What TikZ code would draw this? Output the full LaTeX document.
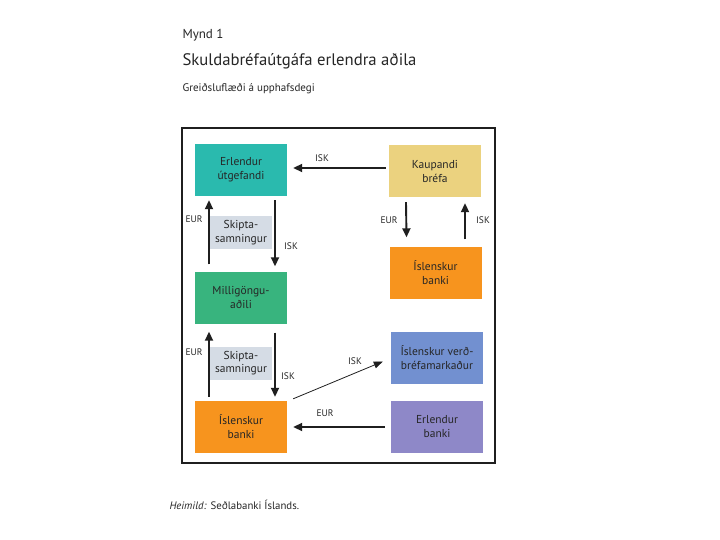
\documentclass[tikz,border=0pt]{standalone}
\usepackage{fontspec}
\setmainfont{PT Sans}
\usepackage{xcolor}
\usetikzlibrary{arrows.meta,calc}

\definecolor{tealbox}{HTML}{2ABAAE}
\definecolor{tanbox}{HTML}{EBD27F}
\definecolor{orangebox}{HTML}{F7941E}
\definecolor{greenbox}{HTML}{38B47E}
\definecolor{bluebox}{HTML}{7290D0}
\definecolor{purplebox}{HTML}{8E88C8}
\definecolor{swapbox}{HTML}{D5DCE5}
\definecolor{txt}{HTML}{262626}

\begin{document}
\begin{tikzpicture}[
  x=1pt,y=-1pt,
  font=\fontsize{11}{13}\selectfont,
  party/.style={minimum width=92pt,minimum height=52pt,inner sep=0pt,
    align=center,text=txt,font=\fontsize{11.5}{14}\selectfont},
  swap/.style={fill=swapbox,minimum width=62pt,minimum height=33pt,inner sep=0pt,
    align=center,text=txt,font=\fontsize{11.5}{13.5}\selectfont},
  money/.style={text=txt,inner sep=0pt,font=\fontsize{9.5}{11}\selectfont},
  flow/.style={-{Triangle[length=9pt,width=8pt]},line width=1.9pt,draw=black!88},
  thinflow/.style={-{Triangle[length=9pt,width=7pt]},line width=0.8pt,draw=black!88}
]
\path[use as bounding box,fill=white] (0,0) rectangle (720,540);
% titles
\node[anchor=west,text=txt,font=\fontsize{13}{15}\selectfont] (fignum) at (179,35) {Mynd 1};
\node[anchor=west,text=txt,font=\fontsize{16.7}{19}\selectfont] (figtitle) at (179,61) {Skuldabréfaútgáfa erlendra aðila};
\node[anchor=west,text=txt,font=\fontsize{11}{13}\selectfont] (figsub) at (179,89) {Greiðsluflæði á upphafsdegi};
% frame
\draw[line width=1.2pt,draw=black!88] (182,128) rectangle (495,463);
% parties
\node[party,fill=tealbox] (utg) at (241,170) {Erlendur\\útgefandi};
\node[party,fill=tanbox] (kaup) at (435,171) {Kaupandi\\bréfa};
\node[party,fill=orangebox] (bankR) at (435.5,272.5) {Íslenskur\\banki};
\node[party,fill=greenbox] (milli) at (241,297.5) {Milligöngu-\\aðili};
\node[party,fill=bluebox] (verd) at (437,357.5) {Íslenskur verð-\\bréfamarkaður};
\node[party,fill=orangebox] (bankL) at (241,427) {Íslenskur\\banki};
\node[party,fill=purplebox] (erlb) at (437,427) {Erlendur\\banki};
% swap agreements
\node[swap] (swapA) at (241,232.5) {Skipta-\\samningur};
\node[swap] (swapB) at (241,363) {Skipta-\\samningur};
% flows
\draw[flow] ($(kaup.west)+(-3,-3)$) -- ($(utg.east)+(6,-2)$);
\draw[flow] ($(milli.north)+(-32,-7)$) -- ($(utg.south)+(-32,4)$);
\draw[flow] ($(utg.south)+(34,4)$) -- ($(milli.north)+(34,-5)$);
\draw[flow] ($(kaup.south)+(-29,5)$) -- ($(bankR.north)+(-29,-9)$);
\draw[flow] ($(bankR.north)+(29.5,-7)$) -- ($(kaup.south)+(30,6)$);
\draw[flow] ($(bankL.north)+(-32,-4)$) -- ($(milli.south)+(-32,8)$);
\draw[flow] ($(milli.south)+(34,9)$) -- ($(bankL.north)+(34,-4)$);
\draw[thinflow] ($(bankL.north east)+(6,-2)$) -- ($(verd.west)+(-8,4)$);
\draw[flow] ($(erlb.west)+(-6,0)$) -- ($(bankL.east)+(6,0)$);
% amounts
\node[money] (iskA) at (322,158) {ISK};
\node[money] (eurA) at (194,219) {EUR};
\node[money] (iskB) at (291,246) {ISK};
\node[money] (eurB) at (389,220) {EUR};
\node[money] (iskC) at (483,220) {ISK};
\node[money] (eurC) at (194,352) {EUR};
\node[money] (iskD) at (288,376) {ISK};
\node[money] (iskE) at (355,361) {ISK};
\node[money] (eurD) at (325,413) {EUR};
% source
\node[anchor=west,text=txt,font=\fontsize{10.8}{12}\selectfont] (source) at (166,505) {\textit{Heimild:} Seðlabanki Íslands.};
\end{tikzpicture}
\end{document}
